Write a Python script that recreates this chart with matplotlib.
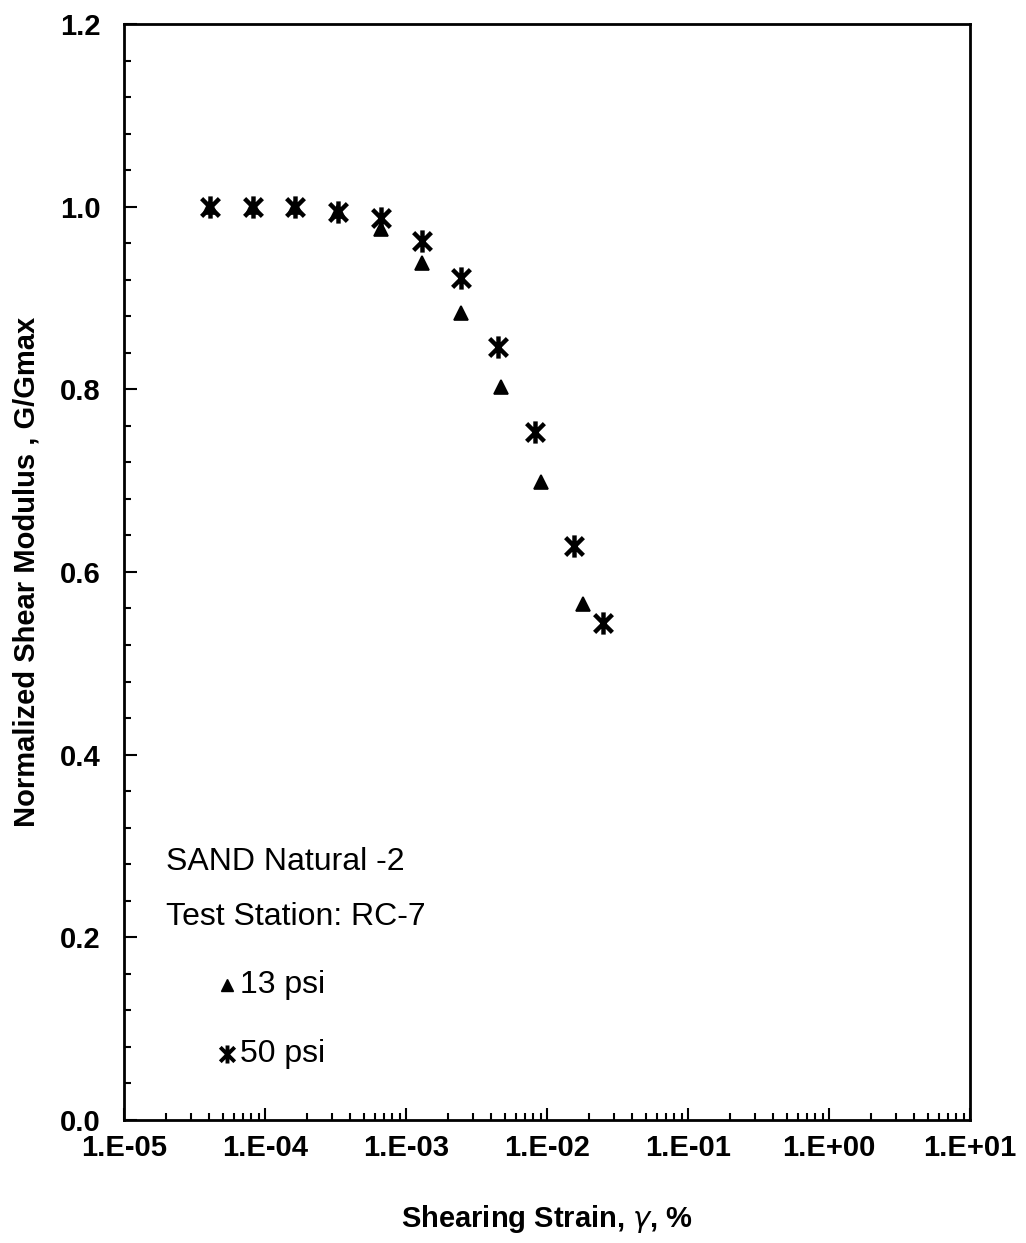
import matplotlib.pyplot as plt
from matplotlib.path import Path
from matplotlib.ticker import MultipleLocator, LogLocator, NullFormatter, FixedLocator

plt.rcParams['font.family'] = ['Liberation Sans', 'DejaVu Sans']

# 13 psi confining pressure
strain_13 = [4.1e-5, 8.2e-5, 1.63e-4, 3.3e-4, 6.65e-4, 1.3e-3, 2.45e-3, 4.7e-3, 9.0e-3, 1.8e-2]
gg_13 = [1.0, 1.0, 1.0, 0.995, 0.975, 0.938, 0.884, 0.802, 0.699, 0.565]

# 50 psi confining pressure
strain_50 = [4.1e-5, 8.2e-5, 1.63e-4, 3.3e-4, 6.65e-4, 1.3e-3, 2.45e-3, 4.5e-3, 8.2e-3, 1.55e-2, 2.5e-2]
gg_50 = [1.0, 1.0, 1.0, 0.994, 0.988, 0.9625, 0.922, 0.846, 0.753, 0.628, 0.544]

xticks = [1e-5, 1e-4, 1e-3, 1e-2, 1e-1, 1e0, 1e1]
xlabels = ['1.E-05', '1.E-04', '1.E-03', '1.E-02', '1.E-01', '1.E+00', '1.E+01']

# asterisk: vertical bar plus an X
ast = Path([(0, -1), (0, 1), (-0.8, -0.8), (0.8, 0.8), (-0.8, 0.8), (0.8, -0.8)],
           [Path.MOVETO, Path.LINETO, Path.MOVETO, Path.LINETO, Path.MOVETO, Path.LINETO])

fig = plt.figure(figsize=(10.26, 12.43), dpi=100)
ax = fig.add_axes([0.1209, 0.099, 0.8245, 0.8817])

ax.plot(strain_13, gg_13, linestyle='none', marker='^', markersize=10,
        color='black', markeredgewidth=1.2)
ax.plot(strain_50, gg_50, linestyle='none', marker=ast, markersize=16,
        color='black', markeredgewidth=3.2)

ax.set_xscale('log')
ax.set_xlim(1e-5, 1e1)
ax.set_ylim(0, 1.2)
ax.xaxis.set_major_locator(FixedLocator(xticks))
ax.set_xticklabels(xlabels)
ax.xaxis.set_minor_locator(LogLocator(base=10, subs=range(2, 10), numticks=20))
ax.xaxis.set_minor_formatter(NullFormatter())
ax.yaxis.set_major_locator(MultipleLocator(0.2))
ax.yaxis.set_minor_locator(MultipleLocator(0.04))
ax.yaxis.set_major_formatter(plt.FuncFormatter(lambda v, p: f'{v:.1f}'))

ax.tick_params(which='both', direction='in', width=1.5)
ax.tick_params(which='major', length=9, labelsize=21)
ax.tick_params(axis='x', which='major', pad=10)
ax.tick_params(axis='y', which='major', pad=17)
ax.tick_params(which='minor', length=5)
for lab in ax.get_xticklabels() + ax.get_yticklabels():
    lab.set_fontweight('bold')
for s in ax.spines.values():
    s.set_linewidth(2)

ax.set_xlabel('Shearing Strain, $\\gamma$, %', fontsize=21, fontweight='bold', labelpad=30)
ax.set_ylabel('Normalized Shear Modulus , G/Gmax', fontsize=21, fontweight='bold', labelpad=14)

ax.text(0.05, 0.235, 'SAND Natural -2', transform=ax.transAxes, fontsize=23, va='center')
ax.text(0.05, 0.185, 'Test Station: RC-7', transform=ax.transAxes, fontsize=23, va='center')
ax.plot([0.122], [0.123], transform=ax.transAxes, marker='^', markersize=8,
        color='black', linestyle='none', clip_on=False)
ax.text(0.137, 0.123, '13 psi', transform=ax.transAxes, fontsize=23, va='center')
ax.plot([0.122], [0.06], transform=ax.transAxes, marker=ast, markersize=13,
        color='black', markeredgewidth=2.8, linestyle='none', clip_on=False)
ax.text(0.137, 0.06, '50 psi', transform=ax.transAxes, fontsize=23, va='center')

fig.savefig('out.png', dpi=100)
